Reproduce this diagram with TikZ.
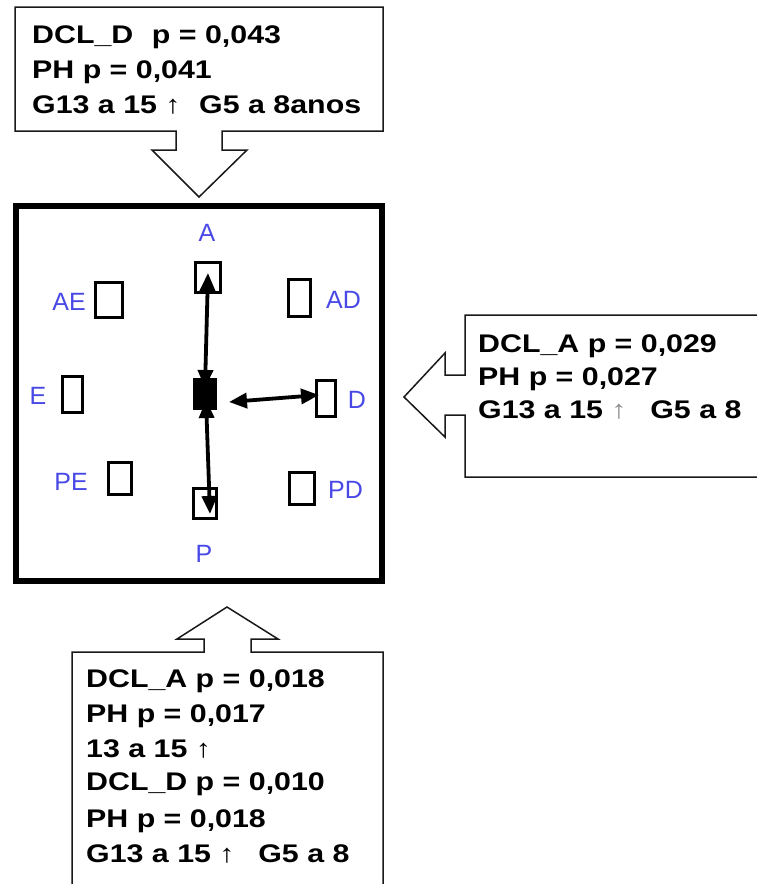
\documentclass[tikz,border=0pt]{standalone}
\usepackage{fontspec}
\setmainfont{Liberation Sans}
\newfontfamily\boxfont{Liberation Sans Bold}[FakeStretch=1.19]
\usetikzlibrary{arrows.meta,calc}
\definecolor{labelblue}{HTML}{4848E6}
\tikzset{
  callout/.style={draw=black!90, line width=1.5pt, fill=white, line join=miter},
  statline/.style={anchor=base west, inner sep=0pt, font=\boxfont\fontsize{25.5}{30}\selectfont},
  dirlabel/.style={anchor=base, inner sep=0pt, text=labelblue, font=\fontsize{25}{30}\selectfont},
  target/.style={draw, line width=3pt, inner sep=0pt, fill=white},
  centre/.style={fill=black, inner sep=0pt, minimum width=24pt, minimum height=32pt},
  move/.style={line width=3.8pt, {Triangle[length=18pt,width=15pt]}-{Triangle[length=18pt,width=15pt]}}
}
\begin{document}
\begin{tikzpicture}[x=1pt,y=-1pt]
\path[use as bounding box, clip] (0,0) rectangle (757,884);

% arena
\draw[line width=5.5pt] (16,206) rectangle (382,581);

% targets
\node[target, minimum width=25pt, minimum height=30pt] (bA)  at (208,277.5) {};
\node[target, minimum width=27pt, minimum height=35pt] (bAE) at (109,300) {};
\node[target, minimum width=22pt, minimum height=37pt] (bAD) at (299.5,298) {};
\node[target, minimum width=20pt, minimum height=36pt] (bE)  at (72.5,394.5) {};
\node[target, minimum width=19pt, minimum height=36pt] (bD)  at (326,398.5) {};
\node[target, minimum width=23pt, minimum height=32pt] (bPE) at (120,478.5) {};
\node[target, minimum width=25pt, minimum height=32pt] (bPD) at (302,488.5) {};
\node[target, minimum width=23pt, minimum height=30pt] (bP)  at (205,503.5) {};

% direction labels
\node[dirlabel] (lA)  at (207,241.5) {A};
\node[dirlabel] (lAE) at (69,310) {AE};
\node[dirlabel] (lAD) at (343.5,308) {AD};
\node[dirlabel] (lE)  at (38,404) {E};
\node[dirlabel] (lD)  at (357,408) {D};
\node[dirlabel] (lPE) at (71,490) {PE};
\node[dirlabel] (lPD) at (345.5,498) {PD};
\node[dirlabel] (lP)  at (204,562) {P};

% movement arrows from the start box
\coordinate (sA) at (205,388);
\coordinate (tA) at (208,273);
\coordinate (sP) at (206,400);
\coordinate (tP) at (210,514);
\coordinate (sD) at (229,402);
\coordinate (tD) at (319,395);
\draw[move] (sA) -- (tA);
\draw[move] (sP) -- (tP);
\draw[move] (sD) -- (tD);
\node[centre] (ctr) at (205,394) {};

% top callout
\draw[callout] (15,7) -- (383,7) -- (383,131) -- (222,131) -- (222,150) -- (247,150)
  -- (199,197) -- (152,150) -- (176,150) -- (176,131) -- (15,131) -- cycle;
\node[statline] (top1) at (32,43)  {DCL\_D\hspace{0.4em} p = 0,043};
\node[statline] (top2) at (32,78)  {PH p = 0,041};
\node[statline] (top3) at (32,113) {G13 a 15 ↑\hspace{0.4em} G5 a 8anos};

% right callout
\draw[callout] (770,315) -- (465,315) -- (465,375) -- (445,375) -- (445,353) -- (404,397)
  -- (445,437) -- (445,415) -- (465,415) -- (465,477) -- (770,477);
\node[statline] (rt1) at (478,352) {DCL\_A p = 0,029};
\node[statline] (rt2) at (478,385) {PH p = 0,027};
\node[statline] (rt3) at (478,418) {G13 a 15 \textcolor{black!45}{↑}\hspace{0.6em} G5 a 8};

% bottom callout
\draw[callout] (72,900) -- (72,652) -- (204,652) -- (204,639) -- (177,639) -- (227,607)
  -- (278,639) -- (251,639) -- (251,652) -- (383,652) -- (383,900);
\node[statline] (bt1) at (86,687) {DCL\_A p = 0,018};
\node[statline] (bt2) at (86,722) {PH p = 0,017};
\node[statline] (bt3) at (86,757) {13 a 15 ↑};
\node[statline] (bt4) at (86,790) {DCL\_D p = 0,010};
\node[statline] (bt5) at (86,827) {PH p = 0,018};
\node[statline] (bt6) at (86,862) {G13 a 15 ↑\hspace{0.6em} G5 a 8};
\end{tikzpicture}
\end{document}
